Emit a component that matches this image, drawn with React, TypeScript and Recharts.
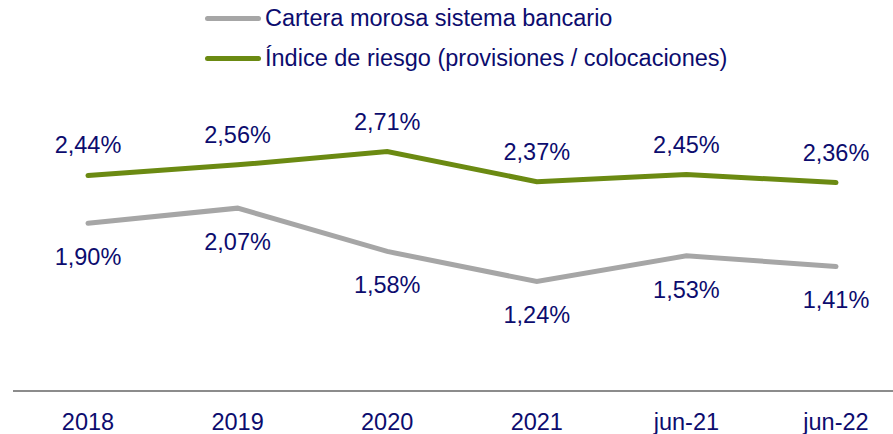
import { LineChart, Line, XAxis, YAxis, LabelList } from "recharts";

const categories = ["2018", "2019", "2020", "2021", "jun-21", "jun-22"];
const carteraMorosa = [1.9, 2.07, 1.58, 1.24, 1.53, 1.41];
const indiceRiesgo = [2.44, 2.56, 2.71, 2.37, 2.45, 2.36];

const data = categories.map((label, i) => ({
  label,
  morosa: carteraMorosa[i],
  riesgo: indiceRiesgo[i],
}));

const TEXT = "#0c0c6e";
const GRAY = "#a6a6a6";
const GREEN = "#6b8a12";
const FONT = "Liberation Sans, Arial, sans-serif";
const FS = 23.5;

const pct = (v: number) => `${v.toFixed(2).replace(".", ",")}%`;

function makeLabel(dy: number) {
  return (props: any) => {
    const { x, y, value } = props;
    return (
      <text
        x={x}
        y={y + dy}
        textAnchor="middle"
        dominantBaseline="central"
        fill={TEXT}
        fontSize={FS}
        fontFamily={FONT}
      >
        {pct(value)}
      </text>
    );
  };
}

function LegendBox() {
  const items = [
    { label: "Cartera morosa sistema bancario", color: GRAY },
    { label: "Índice de riesgo (provisiones / colocaciones)", color: GREEN },
  ];
  return (
    <div style={{ position: "absolute", top: -2, left: 205, fontFamily: FONT }}>
      {items.map((it) => (
        <div key={it.label} style={{ display: "flex", alignItems: "center", height: 40 }}>
          <div style={{ width: 56, height: 5, borderRadius: 3, background: it.color, marginRight: 4 }} />
          <span style={{ fontSize: FS, color: TEXT, whiteSpace: "nowrap" }}>{it.label}</span>
        </div>
      ))}
    </div>
  );
}

export default function App() {
  return (
    <div style={{ position: "absolute", left: 0, top: 0, width: 893, height: 434, background: "#fff" }}>
      <LineChart
        width={893}
        height={434}
        data={data}
        margin={{ top: 126, right: 0, bottom: 3, left: 13 }}
      >
        <XAxis
          dataKey="label"
          scale="point"
          padding={{ left: 75, right: 57 }}
          axisLine={{ stroke: "#8c8c8c", strokeWidth: 2 }}
          tickLine={false}
          height={40}
          tick={{ fill: TEXT, fontSize: FS, fontFamily: FONT, dy: 14 }}
        />
        <YAxis hide domain={[0, 3]} />
        <Line
          dataKey="morosa"
          stroke={GRAY}
          strokeWidth={5}
          dot={false}
          isAnimationActive={false}
          strokeLinecap="round"
        >
          <LabelList dataKey="morosa" content={makeLabel(34)} />
        </Line>
        <Line
          dataKey="riesgo"
          stroke={GREEN}
          strokeWidth={5}
          dot={false}
          isAnimationActive={false}
          strokeLinecap="round"
        >
          <LabelList dataKey="riesgo" content={makeLabel(-30)} />
        </Line>
      </LineChart>
      <LegendBox />
    </div>
  );
}
